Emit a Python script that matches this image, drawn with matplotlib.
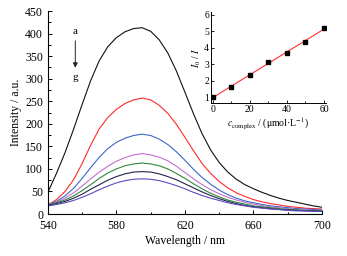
import numpy as np
import matplotlib
matplotlib.use("Agg")
import matplotlib.pyplot as plt
from matplotlib.ticker import MultipleLocator

plt.rcParams["font.family"] = ["Liberation Serif", "DejaVu Serif"]
plt.rcParams["mathtext.fontset"] = "stix"

wavelength = np.arange(540, 701, 5)

spec_a = [48, 90, 136, 188, 243, 296, 340, 371, 391, 404, 411, 413, 405, 386, 357, 317, 270,
          222, 178, 142, 114, 93, 77, 65, 56, 48, 41, 35, 30, 26, 22, 18, 15]
spec_b = [20, 32, 50, 76, 112, 153, 189, 214, 232, 245, 253, 257, 253, 241, 223, 199, 170,
          140, 112, 90, 72, 58, 47, 39, 32, 27, 23, 20, 17, 15, 13, 12, 11]
spec_c = [21, 28, 40, 57, 79, 103, 126, 145, 159, 168, 174, 177, 174, 166, 154, 138, 119,
          99, 81, 66, 53, 43, 35, 29, 25, 21, 18, 16, 14, 12, 11, 10, 9]
spec_d = [21, 26, 35, 47, 62, 78, 93, 106, 117, 125, 131, 134, 131, 126, 118, 106, 92,
          78, 65, 54, 45, 37, 31, 26, 22, 19, 16, 14, 12, 10, 9, 8, 7]
spec_e = [20, 25, 31, 40, 52, 65, 79, 91, 100, 107, 111, 113, 111, 107, 100, 90, 79,
          67, 56, 46, 38, 31, 26, 22, 18, 16, 14, 12, 10, 9, 8, 7, 7]
spec_f = [19, 23, 28, 35, 44, 55, 65, 75, 83, 89, 93, 94, 93, 89, 83, 76, 67,
          58, 49, 41, 34, 28, 23, 19, 16, 14, 12, 10, 9, 8, 7, 7, 6]
spec_g = [18, 21, 25, 30, 37, 45, 54, 62, 69, 74, 77, 78, 77, 74, 69, 63, 56,
          48, 41, 35, 30, 25, 21, 18, 15, 13, 11, 10, 8, 7, 7, 6, 6]

spectra = [spec_a, spec_b, spec_c, spec_d, spec_e, spec_f, spec_g]
colors = ["#111111", "#ff2a2a", "#3a68c8", "#c46fd0", "#2e8a3a", "#22224e", "#5a4cc0"]

conc = [0, 10, 20, 30, 40, 50, 60]
ratio = [1.0, 1.63, 2.36, 3.12, 3.66, 4.35, 5.2]

fig = plt.figure(figsize=(3.47, 2.56), dpi=100)
ax = fig.add_axes([0.138, 0.164, 0.79, 0.793])

for s, c in zip(spectra, colors):
    ax.plot(wavelength, s, color=c, lw=0.8, solid_joinstyle="round")

ax.set_xlim(540, 700)
ax.set_ylim(0, 450)
ax.set_xticks(range(540, 701, 40))
ax.xaxis.set_minor_locator(MultipleLocator(20))
ax.yaxis.set_major_locator(MultipleLocator(50))
ax.yaxis.set_minor_locator(MultipleLocator(25))
ax.tick_params(which="both", direction="in", labelsize=8.5, width=0.7)
ax.tick_params(which="major", length=3)
ax.tick_params(which="minor", length=1.8)
ax.tick_params(axis="x", pad=4.5)
for side in ["top", "right"]:
    ax.spines[side].set_visible(False)
for side in ["left", "bottom"]:
    ax.spines[side].set_linewidth(0.8)
ax.set_xlabel("Wavelength / nm", fontsize=8.5, labelpad=2)
ax.set_ylabel("Intensity / a.u.", fontsize=8.5, labelpad=2)

ax.text(556, 404, "a", ha="center", va="center", fontsize=8)
ax.text(556, 302, "g", ha="center", va="center", fontsize=8)
ax.annotate("", xy=(556, 318), xytext=(556, 390),
            arrowprops=dict(arrowstyle="-|>", color="#222222", lw=0.7,
                            mutation_scale=7))

ins = fig.add_axes([0.608, 0.598, 0.331, 0.355])
k, b = np.polyfit(conc, ratio, 1)
xfit = np.array([conc[0], conc[-1]])
ins.plot(xfit, k * xfit + b, color="#ff3030", lw=0.8)
ins.plot(conc, ratio, "s", color="black", ms=2.2)
ins.set_xlim(-1, 61)
ins.set_ylim(0.65, 6.15)
ins.xaxis.set_major_locator(MultipleLocator(20))
ins.xaxis.set_minor_locator(MultipleLocator(10))
ins.yaxis.set_major_locator(MultipleLocator(1))
ins.tick_params(which="both", direction="in", labelsize=7, width=0.6, pad=1.5)
ins.tick_params(which="major", length=2.5)
ins.tick_params(which="minor", length=1.5)
for side in ["top", "right"]:
    ins.spines[side].set_visible(False)
for side in ["left", "bottom"]:
    ins.spines[side].set_linewidth(0.7)
ins.set_xlabel(r"$c_{\mathrm{complex}}$ / (μmol·L$^{-1}$)", fontsize=7, labelpad=1)
ins.set_ylabel(r"$I_0$ / $I$", fontsize=7, labelpad=1)

fig.savefig("out.png", dpi=100)
